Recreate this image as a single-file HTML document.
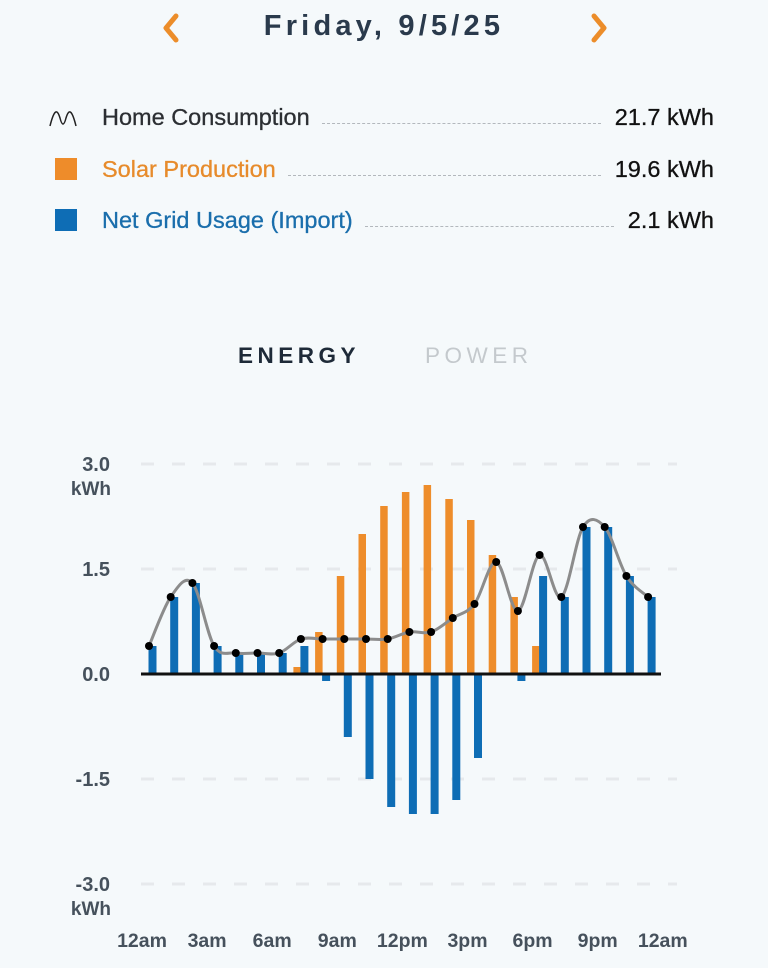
<!DOCTYPE html>
<html><head><meta charset="utf-8"><style>
body{margin:0;width:768px;height:968px;background:#f5f9fb;font-family:"Liberation Sans",sans-serif;position:relative;overflow:hidden}
.abs{position:absolute}
.title{left:0;width:768px;top:10px;text-align:center;font-size:29px;font-weight:bold;letter-spacing:4.2px;color:#2a3a4c}
.row{left:48px;width:666px;height:30px;display:flex;align-items:center;font-size:23.5px}
.row .lab{margin-left:20px;white-space:nowrap;-webkit-text-stroke:0.3px}
.row .dots{flex:1;border-bottom:1.5px dashed #b3b8bd;margin:12px 14px 0 12px;height:0}
.row .val{color:#111;white-space:nowrap;-webkit-text-stroke:0.3px}
.tab{top:343px;font-size:22.5px;letter-spacing:4.5px;font-weight:bold}
</style></head><body>
<div class="abs" style="left:156px;top:10px;width:30px;height:36px">
<svg width="30" height="36"><polyline points="20,6 10,18 20,30" fill="none" stroke="#ec8d2a" stroke-width="5" stroke-linecap="round" stroke-linejoin="round"/></svg></div>
<div class="abs title">Friday, 9/5/25</div>
<div class="abs" style="left:584px;top:10px;width:30px;height:36px">
<svg width="30" height="36"><polyline points="10,6 20,18 10,30" fill="none" stroke="#ec8d2a" stroke-width="5" stroke-linecap="round" stroke-linejoin="round"/></svg></div>

<div class="abs row" style="top:102px">
<svg width="34" height="22"><path d="M2,20 C6,4 9,2 12,12 C14,20 16,20 18,12 C21,2 24,4 28,20" fill="none" stroke="#222" stroke-width="1.5"/></svg>
<span class="lab" style="color:#2c2f33;margin-left:20px">Home Consumption</span><span class="dots"></span><span class="val">21.7 kWh</span></div>
<div class="abs row" style="top:154px">
<span style="width:22px;height:22px;background:#ee8c2a;margin-left:7px;margin-right:5px"></span>
<span class="lab" style="color:#e78b2b">Solar Production</span><span class="dots"></span><span class="val">19.6 kWh</span></div>
<div class="abs row" style="top:205px">
<span style="width:22px;height:22px;background:#0e6db5;margin-left:7px;margin-right:5px"></span>
<span class="lab" style="color:#1a6eac">Net Grid Usage (Import)</span><span class="dots"></span><span class="val">2.1 kWh</span></div>

<div class="abs tab" style="left:238px;color:#1e2a38">ENERGY</div>
<div class="abs tab" style="left:425px;color:#c4c9cd;font-weight:normal">POWER</div>

<svg id="chart" class="abs" style="left:0;top:440px" width="768" height="528"></svg>
<script>
const hours=[0,1,2,3,4,5,6,7,8,9,10,11,12,13,14,15,16,17,18,19,20,21,22,23];
const homeVals=[0.4,1.1,1.3,0.4,0.3,0.3,0.3,0.5,0.5,0.5,0.5,0.5,0.6,0.6,0.8,1.0,1.6,0.9,1.7,1.1,2.1,2.1,1.4,1.1];
const solarVals=[0,0,0,0,0,0,0,0.1,0.6,1.4,2.0,2.4,2.6,2.7,2.5,2.2,1.7,1.1,0.4,0,0,0,0,0];
const gridVals=[0.4,1.1,1.3,0.4,0.3,0.3,0.3,0.4,-0.1,-0.9,-1.5,-1.9,-2.0,-2.0,-1.8,-1.2,0,-0.1,1.4,1.1,2.1,2.1,1.4,1.1];
const yTicks=[3.0,1.5,0.0,-1.5,-3.0];
const yTickLabels=["3.0","1.5","0.0","-1.5","-3.0"];
const xTickHours=[0,3,6,9,12,15,18,21,24];
const xTickLabels=["12am","3am","6am","9am","12pm","3pm","6pm","9pm","12am"];
const svg=document.getElementById('chart');const NS='http://www.w3.org/2000/svg';
const top0=440;
function y(v){return 674-top0-v*70;}
function x(h){return 149+h*21.7;}
function mk(t,a){const e=document.createElementNS(NS,t);for(const k in a)e.setAttribute(k,a[k]);svg.appendChild(e);return e;}
yTicks.forEach((t,i)=>{
 if(t!==0){const g=mk('line',{x1:141,x2:677,y1:y(t),y2:y(t),stroke:'#e6e9ec','stroke-width':3,'stroke-dasharray':'13 18'});
 
 }
 const tx=mk('text',{x:110,y:y(t)+7,'text-anchor':'end','font-size':20,'font-weight':'bold',fill:'#46515c','font-family':'Liberation Sans, sans-serif'});
 tx.textContent=yTickLabels[i];
 
 
 if(Math.abs(t)===3){const u=mk('text',{x:111,y:y(t)+31,'text-anchor':'end','font-size':19,'font-weight':'bold',fill:'#46515c','font-family':'Liberation Sans, sans-serif'});u.textContent='kWh';
 
 }
});
hours.forEach(h=>{
 const s=solarVals[h];
 if(s){const r=mk('rect',{x:x(h)-7.5,y:Math.min(y(s),y(0)),width:7.5,height:Math.abs(y(s)-y(0)),fill:'#ee8d2b'});
 
 }
 const g=gridVals[h];
 if(g){const r=mk('rect',{x:x(h)-0.5,y:Math.min(y(g),y(0)),width:8,height:Math.abs(y(g)-y(0)),fill:'#0e6db5'});
 
 }
});
const zl=mk('line',{x1:141,x2:661,y1:y(0),y2:y(0),stroke:'#111','stroke-width':3});


const P=hours.map(h=>[x(h),y(homeVals[h])]);
let d='M'+P[0][0]+','+P[0][1];
for(let i=0;i<P.length-1;i++){const p0=P[Math.max(0,i-1)],p1=P[i],p2=P[i+1],p3=P[Math.min(P.length-1,i+2)];
 d+=` C${p1[0]+(p2[0]-p0[0])/6},${p1[1]+(p2[1]-p0[1])/6} ${p2[0]-(p3[0]-p1[0])/6},${p2[1]-(p3[1]-p1[1])/6} ${p2[0]},${p2[1]}`;}
const ln=mk('path',{d:d,fill:'none',stroke:'#8c8c8c','stroke-width':3});


P.forEach(p=>{const c=mk('circle',{cx:p[0],cy:p[1],r:4,fill:'#000'});
 
 });
xTickHours.forEach((h,i)=>{const t=mk('text',{x:x(h)-7,y:507,'text-anchor':'middle','font-size':19.5,'font-weight':'bold',fill:'#46515c','font-family':'Liberation Sans, sans-serif'});
 t.textContent=xTickLabels[i];
 
 });
</script>
</body></html>
